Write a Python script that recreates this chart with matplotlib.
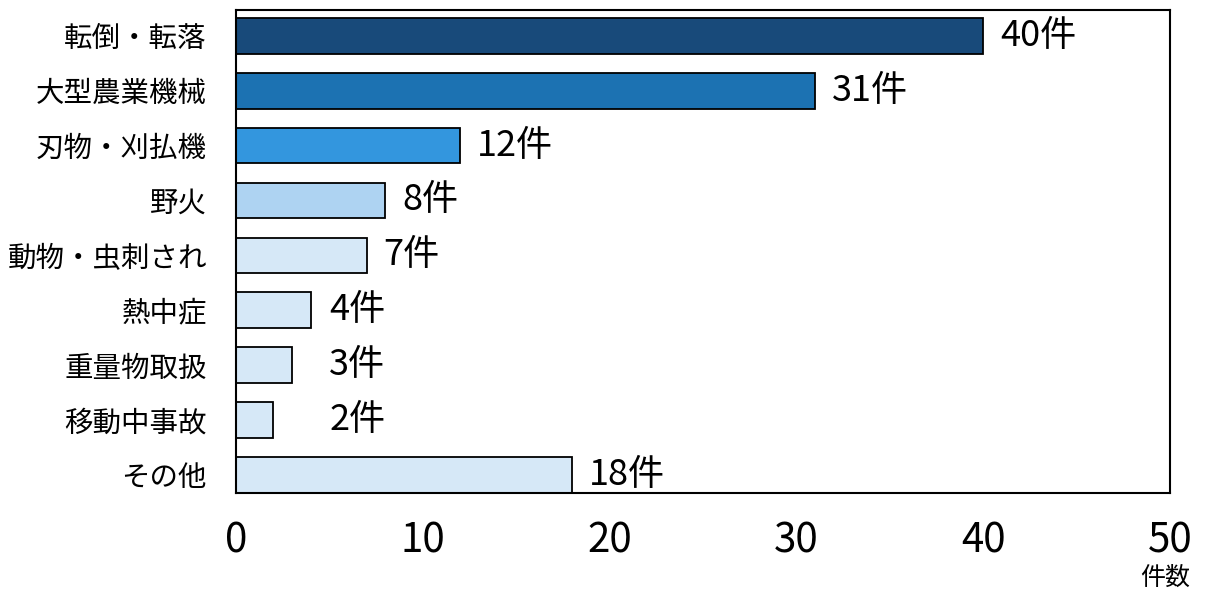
import matplotlib
matplotlib.use("Agg")
import matplotlib.pyplot as plt

plt.rcParams['font.family'] = ['Noto Sans CJK JP', 'DejaVu Sans']

categories = ["転倒・転落", "大型農業機械", "刃物・刈払機", "野火", "動物・虫刺され",
              "熱中症", "重量物取扱", "移動中事故", "その他"]
values = [40, 31, 12, 8, 7, 4, 3, 2, 18]
colors = ["#184A7A", "#1C72B2", "#3396DE", "#AED3F2", "#D6E8F7",
          "#D6E8F7", "#D6E8F7", "#D6E8F7", "#D6E8F7"]
xticks = [0, 10, 20, 30, 40, 50]
unit = "件"
xlabel = "件数"

fig = plt.figure(figsize=(12.07, 5.93), dpi=100)
ax = fig.add_axes([0.1955, 0.1686, 0.7738, 0.8145])

y = list(range(len(categories)))
ax.barh(y, values, height=0.65, color=colors, edgecolor="black", linewidth=1.3)

for yi, v in zip(y, values):
    ax.text(max(v + 0.9, 5.0), yi, f"{v}{unit}", va="center", ha="left", fontsize=26)

ax.set_xlim(0, 50)
ax.set_ylim(8.33, -0.47)
ax.set_yticks(y)
ax.set_yticklabels(categories, fontsize=20.5)
ax.set_xticks(xticks)
ax.set_xticklabels([str(t) for t in xticks], fontsize=29)
ax.tick_params(axis="x", length=0, pad=20)
ax.tick_params(axis="y", length=0, pad=21)
for s in ax.spines.values():
    s.set_linewidth(1.5)
    s.set_color("black")

fig.text(1165 / 1207, 1 - 578 / 593, xlabel, ha="center", va="center", fontsize=18)

fig.savefig("out.png", dpi=100)
